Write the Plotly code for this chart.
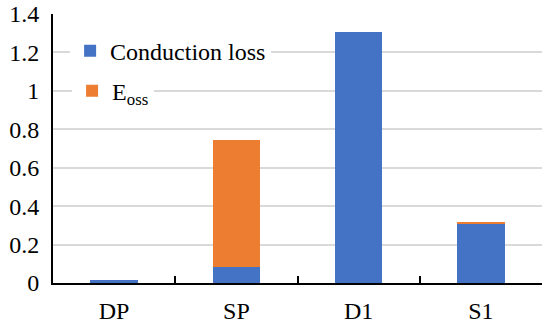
import plotly.graph_objects as go

categories = ["DP", "SP", "D1", "S1"]
conduction_loss = [0.015, 0.083, 1.305, 0.305]
e_oss = [0.0, 0.660, 0.0, 0.012]
y_ticks = [0, 0.2, 0.4, 0.6, 0.8, 1, 1.2, 1.4]
y_tick_text = ["0", "0.2", "0.4", "0.6", "0.8", "1", "1.2", "1.4"]

font_family = "Liberation Serif"
font_size = 24

fig = go.Figure()
fig.add_trace(go.Bar(
    x=categories, y=conduction_loss, name="Conduction loss",
    marker=dict(color="#4472C4", line=dict(width=0)),
    legend="legend",
))
fig.add_trace(go.Bar(
    x=categories, y=e_oss, name="E<sub>oss</sub>",
    marker=dict(color="#ED7D31", line=dict(width=0)),
    legend="legend2",
))

legend_style = dict(
    xanchor="left", yanchor="middle",
    bgcolor="white", borderwidth=0,
    font=dict(family=font_family, size=font_size, color="black"),
    itemwidth=30,
)

fig.update_layout(
    width=543, height=323,
    margin=dict(l=53, r=1, t=14, b=40, autoexpand=False),
    barmode="stack",
    bargap=0.61,
    plot_bgcolor="white",
    paper_bgcolor="white",
    font=dict(family=font_family, size=font_size, color="black"),
    showlegend=True,
    legend=dict(x=0.035, y=0.862, **legend_style),
    legend2=dict(x=0.039, y=0.713, **legend_style),
    xaxis=dict(
        type="category",
        automargin=False,
        showline=True, linecolor="black", linewidth=2,
        ticks="inside", tickson="boundaries", ticklen=7,
        tickcolor="black", tickwidth=2,
        showgrid=False,
        ticklabelstandoff=5,
        tickfont=dict(family=font_family, size=font_size),
    ),
    yaxis=dict(
        range=[0, 1.4],
        automargin=False,
        tickvals=y_ticks, ticktext=y_tick_text,
        showline=True, linecolor="black", linewidth=2,
        showgrid=True, gridcolor="#d9d9d9", gridwidth=1.5,
        zeroline=False,
        ticks="", ticklen=0,
        ticklabelstandoff=7,
        tickfont=dict(family=font_family, size=font_size),
    ),
)

fig.write_html("out.html")
